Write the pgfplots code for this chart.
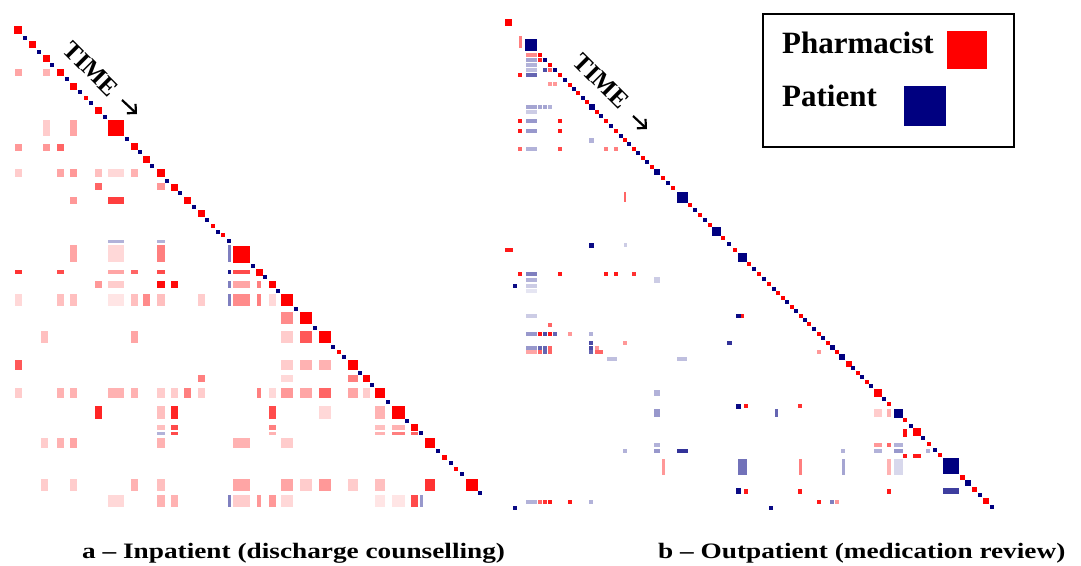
\documentclass[border=0pt]{standalone}
\usepackage{pgfplots}
\pgfplotsset{compat=1.18}
\usepackage{pgfplotstable}
\usepackage{fontspec}
\setmainfont{Liberation Serif}
\usetikzlibrary{arrows.meta}
\definecolor{navyb}{RGB}{0,0,128}
\definecolor{pred}{RGB}{255,0,0}
\pgfplotsset{
  colormap={blues}{rgb255=(255,255,255) rgb255=(0,0,128)},
  colormap={reds}{rgb255=(255,255,255) rgb255=(255,0,0)},
}
\pgfdeclareplotmark{cell}{%
  \pgfpathrectangle{\pgfpoint{-0.5*\cw pt}{-0.5*\ch pt}}{\pgfpoint{\cw pt}{\ch pt}}%
  \pgfusepathqfill}

% ---------- left panel: red (pharmacist) ----------
\pgfplotstableread{
x y w h s
18 72 7 7 0.35
46 72 7 7 0.3
46 128 7 16 0.2
73 128 7 16 0.35
18 147 7 7 0.4
46 147 7 7 0.4
60 147 7 7 0.6
18 173 7 8 0.2
60 173 7 8 0.35
73 173 7 8 0.4
98 173 7 8 0.25
116 173 16 8 0.15
134 173 7 8 0.3
98 186 7 7 0.6
161 186 8 7 0.4
73 200 7 7 0.4
116 200 16 7 0.75
73 253 7 17 0.35
116 253 16 17 0.15
161 253 8 17 0.5
18 272 7 4 0.8
60 272 7 4 0.7
116 272 16 4 0.35
134 272 7 4 0.6
161 272 8 4 0.7
241 272 17 4 0.7
98 284 7 7 0.4
116 284 16 7 0.2
161 284 8 7 0.95
174 284 7 7 0.95
241 284 17 7 0.35
259 284 4 7 0.5
18 300 7 12 0.15
60 300 7 12 0.25
73 300 7 12 0.25
116 300 16 12 0.1
134 300 7 12 0.25
146 300 7 12 0.45
161 300 8 12 0.25
201 300 7 12 0.2
241 300 17 12 0.45
259 300 4 12 0.5
272 300 7 12 0.15
287 318 12 12 0.45
44 337 7 12 0.25
134 337 7 12 0.35
287 337 12 12 0.2
306 337 12 12 0.65
18 365 7 10 0.65
287 365 12 10 0.2
306 365 12 10 0.3
325 365 12 10 0.3
201 378 7 7 0.5
287 378 12 7 0.15
353 378 10 7 0.5
18 393 7 10 0.2
60 393 7 10 0.3
73 393 7 10 0.3
116 393 16 10 0.3
134 393 7 10 0.3
161 393 8 10 0.2
174 393 7 10 0.2
187 393 7 10 0.5
201 393 7 10 0.2
259 393 4 10 0.5
272 393 7 10 0.15
287 393 12 10 0.4
306 393 12 10 0.35
325 393 12 10 0.6
353 393 10 10 0.35
366 393 7 10 0.2
98 412 7 13 0.85
161 412 8 13 0.25
174 412 7 13 0.85
272 412 7 13 0.7
325 412 12 13 0.15
380 412 10 13 0.3
161 427 8 5 0.25
174 427 7 5 0.7
272 427 7 5 0.5
380 427 10 5 0.25
398 427 13 5 0.3
174 433 7 3 0.7
272 433 7 3 0.3
380 433 10 3 0.3
398 433 13 3 0.5
414 433 7 3 0.6
44 443 7 10 0.2
60 443 7 10 0.3
73 443 7 10 0.35
161 443 8 10 0.3
241 443 17 10 0.3
287 443 12 10 0.2
44 485 7 12 0.2
73 485 7 12 0.2
134 485 7 12 0.3
161 485 8 12 0.25
241 485 17 12 0.35
287 485 12 12 0.35
306 485 12 12 0.2
325 485 12 12 0.4
353 485 10 12 0.2
380 485 10 12 0.25
430 485 10 12 0.8
116 501 16 12 0.15
161 501 8 12 0.3
174 501 7 12 0.3
241 501 17 12 0.2
259 501 4 12 0.4
272 501 7 12 0.4
287 501 12 12 0.15
380 501 10 12 0.1
398 501 13 12 0.1
414 501 7 12 0.7
18 30 8 8 1
32 44 7 7 1
46 58 7 7 1
60 72 7 7 1
73 86 7 7 1
86 98 4.5 4.5 1
98 110 7 7 1
116 128 16 16 1
134 146 7 7 1
146 159 7 7 1
161 173 8 8 1
174 187 7 7 1
187 200 7 7 1
201 213 7 7 1
213 226 4.5 4.5 1
223 235 4.5 4.5 1
241 254 17 17 1
259 272 7 7 1
272 284 7 7 1
287 300 12 12 1
306 318 12 12 1
325 337 12 12 1
339 352 4.5 4.5 1
353 365 10 10 1
366 378 7 7 1
380 393 10 10 1
398 412 13 13 1
414 427 7 7 1
430 443 10 10 1
444 457 5 5 1
456 469 4.5 4.5 1
472 485 12 12 1
}\leftred

% ---------- left panel: navy (patient) ----------
\pgfplotstableread{
x y w h s
116 241 16 3 0.3
161 241 8 3 0.3
229 253 3 17 0.5
229 272 3 4 0.9
229 284 3 7 0.5
229 300 3 12 0.5
161 433 8 3 0.3
229 501 3 12 0.5
421 501 3 12 0.4
25 38 4 4 1
39 52 4 4 1
52 65 4 4 1
67 79 4 4 1
80 92 4 4 1
91 103 4 4 1
105 117 4 4 1
127 139 4 4 1
140 152 4 4 1
152 166 4 4 1
167 181 4 4 1
180 193 4 4 1
194 207 4 4 1
207 220 4 4 1
218 232 4 4 1
229 241 4 4 1
253 266 4 4 1
265 277 4 4 1
278 291 4 4 1
296 309 4 4 1
315 328 4 4 1
333 347 4 4 1
344 357 4 4 1
360 373 4 4 1
372 385 4 4 1
388 402 4 4 1
407 421 4 4 1
421 433 4 4 1
438 451 4 4 1
451 463 4 4 1
462 474 4 4 1
480 493 4 4 1
}\leftblue

% ---------- right panel: red (pharmacist) ----------
\pgfplotstableread{
x y w h s
520 42 3 12 0.5
531 55 11 4 0.45
540 60 4.5 4.5 0.85
550 70 4.5 4.5 0.6
520 75 4.5 4.5 0.9
550 84 4.5 4.5 0.4
555 84 4.5 4.5 0.4
520 121 4.5 4.5 0.9
560 121 4.5 4.5 0.9
520 131 4.5 4.5 0.9
560 131 4.5 4.5 0.9
520 149 4.5 4.5 0.6
560 149 4.5 4.5 0.7
606 149 4.5 4.5 0.5
616 149 4.5 4.5 0.5
625 197 2.5 10 0.6
509 250 8 4 0.9
520 274 4.5 4.5 0.9
560 274 4.5 4.5 0.9
606 274 4.5 4.5 0.9
616 274 4.5 4.5 0.9
634 274 4.5 4.5 0.8
550 325 4.5 4.5 0.6
540 334 4.5 4.5 0.9
550 334 4.5 4.5 0.9
570 334 4.5 4.5 0.4
625 343 4.5 4.5 0.4
550 348 4.5 4.5 0.6
597 348 4.5 4.5 0.4
531 352 11 4 0.35
540 352 4.5 4.5 0.6
550 352 4.5 4.5 0.6
597 352 4.5 4.5 0.6
601 352 4.5 4.5 0.6
819 352 4.5 4.5 0.4
800 406 4.5 4.5 0.8
878 413 8 8 0.2
889 413 4 8 0.3
905 433 4.5 8 0.95
878 445 8 4 0.4
889 445 4 4 0.6
905 456 4.5 4.5 0.9
917 456 8 4.5 0.9
663 467 3 16 0.4
800 467 3 16 0.5
889 467 4 16 0.3
800 491 4.5 5 0.9
889 491 4.5 5 0.9
540 502 4.5 4.5 0.6
545 502 4.5 4.5 0.8
550 502 4.5 4.5 0.9
570 502 4.5 4.5 0.9
819 502 4.5 4.5 0.9
837 502 4.5 4.5 0.4
508 22 7 7 1
540 55 4.5 4.5 1
550 65 4.5 4.5 1
560 75 4.5 4.5 1
570 85 4.5 4.5 1
578 93 4.5 4.5 1
587 102 4.5 4.5 1
597 112 4.5 4.5 1
606 121 4.5 4.5 1
616 131 4.5 4.5 1
625 140 4.5 4.5 1
634 149 4.5 4.5 1
643 158 4.5 4.5 1
652 167 4.5 4.5 1
663 178 4.5 4.5 1
673 188 4.5 4.5 1
690 205 4.5 4.5 1
700 215 4.5 4.5 1
710 225 4.5 4.5 1
723 238 4.5 4.5 1
735 250 4.5 4.5 1
749 264 4.5 4.5 1
759 274 4.5 4.5 1
769 284 4.5 4.5 1
778 293 4.5 4.5 1
783 298 4.5 4.5 1
792 307 4.5 4.5 1
801 316 4.5 4.5 1
809 324 4.5 4.5 1
819 334 4.5 4.5 1
828 343 4.5 4.5 1
837 352 4.5 4.5 1
849 364 6 6 1
858 373 4.5 4.5 1
867 382 4.5 4.5 1
878 393 8 8 1
889 404 4.5 4.5 1
905 420 4.5 4.5 1
917 432 8 8 1
929 444 4.5 4.5 1
940 455 4.5 4.5 1
962 477 5 5 1
974 489 5 5 1
986 501 6 6 1
742 316 4 4 0.9
746 406 4 4 0.9
746 491 4 5 0.9
}\rightred

% ---------- right panel: navy (patient) ----------
\pgfplotstableread{
x y w h s
531 60 11 4 0.35
531 65 11 4 0.3
531 70 11 4 0.25
545 70 4.5 4.5 0.7
531 75 11 4 0.6
531 107 11 4 0.35
540 107 4.5 4.5 0.35
545 107 4.5 4.5 0.35
550 107 4.5 4.5 0.3
531 112 11 4 0.2
531 121 11 4 0.4
531 131 11 4 0.4
591 140 5 5 0.3
531 149 11 4 0.3
591 245 5 5 0.95
625 245 3 4 0.2
531 274 11 4 0.5
531 280 11 4 0.3
657 280 6 6 0.2
515 286 4.5 4.5 0.95
531 286 11 4 0.2
531 291 11 4 0.1
531 316 11 4 0.2
738 316 5 4 0.95
531 334 11 4 0.4
545 334 4.5 4.5 0.7
555 334 4.5 4.5 0.6
591 334 4.5 4.5 0.3
591 343 4.5 4.5 0.7
729 343 5 4 0.8
531 348 11 4 0.4
540 348 4.5 4.5 0.6
545 348 4.5 4.5 0.6
591 348 4.5 4.5 0.7
545 352 4.5 4.5 0.6
591 352 4.5 4.5 0.6
612 359 10 4 0.25
682 359 10 4 0.25
657 393 6 6 0.3
738 406 5 5 0.95
657 413 6 8 0.4
776 413 3 8 0.6
657 445 6 4 0.3
898 445 9 4 0.3
625 451 4 4 0.3
657 451 6 4 0.4
682 451 11 4 0.8
843 451 4 4 0.3
878 451 8 4 0.3
898 451 9 4 0.4
928 451 4 4 0.3
742 467 9 16 0.55
843 467 3 16 0.35
898 467 9 16 0.15
738 491 5 6 0.95
951 491 16 6 0.75
531 502 11 4 0.3
591 502 4.5 4.5 0.3
832 502 4.5 4.5 0.5
515 508 4.5 4.5 0.95
771 508 4.5 4.5 0.95
531 45 12 12 1
545 60 4 4 1
555 70 4 4 1
565 80 4 4 1
574 89 4 4 1
583 98 4 4 1
592 107 6 6 1
601 116 4 4 1
611 126 4 4 1
621 136 4 4 1
629 144 4 4 1
638 153 4 4 1
647 162 4 4 1
657 172 6 6 1
668 183 4 4 1
682 197 11 11 1
695 210 4 4 1
705 220 4 4 1
716 231 9 9 1
729 244 4 4 1
742 257 9 9 1
754 269 4 4 1
764 279 4 4 1
774 289 4 4 1
787 302 4 4 1
796 311 4 4 1
805 320 4 4 1
814 329 4 4 1
823 338 4 4 1
832 347 5 5 1
842 357 6 6 1
853 368 4 4 1
862 377 4 4 1
871 386 4 4 1
884 399 4 4 1
898 413 9 9 1
911 426 4 4 1
923 438 4 4 1
935 450 4 4 1
951 466 16 16 1
968 483 6 6 1
980 495 4 4 1
992 507 4 4 1
}\rightblue

\begin{document}
\begin{tikzpicture}
\useasboundingbox (0,0) rectangle (1081pt,565pt);
\begin{axis}[
  at={(0,0)}, anchor=south west,
  scale only axis, width=1081pt, height=565pt,
  xmin=0, xmax=1081, ymin=0, ymax=565, y dir=reverse,
  hide axis, clip=false,
  point meta min=0, point meta max=1,
]
\addplot[scatter, only marks, mark=cell, colormap name=reds, point meta=explicit,
  visualization depends on={\thisrow{w}\as\cw},
  visualization depends on={\thisrow{h}\as\ch}]
  table[x=x, y=y, meta=s]{\leftred};
\addplot[scatter, only marks, mark=cell, colormap name=blues, point meta=explicit,
  visualization depends on={\thisrow{w}\as\cw},
  visualization depends on={\thisrow{h}\as\ch}]
  table[x=x, y=y, meta=s]{\leftblue};
\addplot[scatter, only marks, mark=cell, colormap name=reds, point meta=explicit,
  visualization depends on={\thisrow{w}\as\cw},
  visualization depends on={\thisrow{h}\as\ch}]
  table[x=x, y=y, meta=s]{\rightred};
\addplot[scatter, only marks, mark=cell, colormap name=blues, point meta=explicit,
  visualization depends on={\thisrow{w}\as\cw},
  visualization depends on={\thisrow{h}\as\ch}]
  table[x=x, y=y, meta=s]{\rightblue};

% TIME labels and arrows
\node[rotate=-45, font=\bfseries\fontsize{25}{25}\selectfont, inner sep=0pt] at (axis cs:91,69) {TIME};
\draw[line width=2.2pt, -{Straight Barb[angle=90:9pt]}] (axis cs:122,100) -- (axis cs:137,114);
\node[rotate=-45, font=\bfseries\fontsize{25}{25}\selectfont, inner sep=0pt] at (axis cs:601,81) {TIME};
\draw[line width=2.2pt, -{Straight Barb[angle=90:9pt]}] (axis cs:633,116) -- (axis cs:647,129);

% legend
\draw[line width=2.6pt] (axis cs:763,14) rectangle (axis cs:1014,147);
\node[anchor=base west, inner sep=0pt, font=\bfseries\fontsize{31}{31}\selectfont] at (axis cs:782,53) {Pharmacist};
\fill[pred] (axis cs:947,31) rectangle (axis cs:987,69);
\node[anchor=base west, inner sep=0pt, font=\bfseries\fontsize{31}{31}\selectfont] at (axis cs:782,106) {Patient};
\fill[navyb] (axis cs:904,86) rectangle (axis cs:946,126);

% captions
\node[anchor=base west, inner sep=0pt, font=\bfseries\fontsize{22}{22}\selectfont] at (axis cs:82,558) {\scalebox{1.24}[1]{a – Inpatient (discharge counselling)}};
\node[anchor=base west, inner sep=0pt, font=\bfseries\fontsize{22}{22}\selectfont] at (axis cs:658,558) {\scalebox{1.24}[1]{b – Outpatient (medication review)}};
\end{axis}
\end{tikzpicture}
\end{document}
